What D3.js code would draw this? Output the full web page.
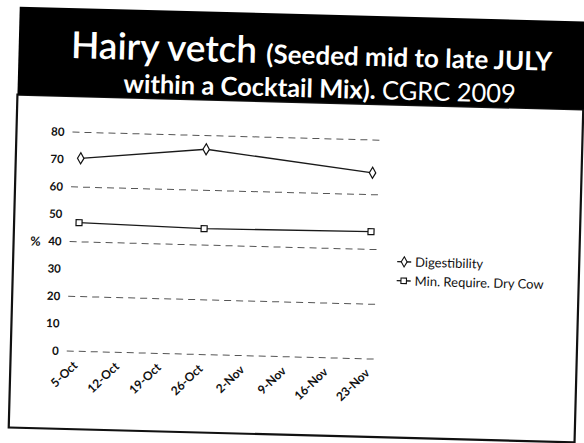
<!DOCTYPE html>
<html>
<head>
<meta charset="utf-8">
<script src="https://cdn.jsdelivr.net/npm/d3@7"></script>
<style>
  body { margin: 0; background: #fff; }
  svg { display: block; font-family: Lato, "Open Sans", sans-serif; }
</style>
</head>
<body>
<svg id="slide" width="584" height="443"></svg>
<script>
// values
var dates = ["2009-10-05", "2009-10-26", "2009-11-23"];
var digestibility = [70.5, 75, 68];
var minRequire = [47, 46, 46.5];
var seriesNames = ["Digestibility", "Min. Require. Dry Cow"];
var yTicks = [0, 10, 20, 30, 40, 50, 60, 70, 80];
var gridTicks = [0, 20, 40, 60, 80];
var tickLabels = ["5-Oct", "12-Oct", "19-Oct", "26-Oct", "2-Nov", "9-Nov", "16-Nov", "23-Nov"];

var parse = d3.timeParse("%Y-%m-%d");

var svg = d3.select("#slide");
// the scan is a little crooked, tilt the whole page the same way
var page = svg.append("g").attr("transform", "rotate(1.5,296,268)");

page.append("rect")
    .attr("x", 13).attr("y", 102)
    .attr("width", 566).attr("height", 333)
    .attr("fill", "#fff")
    .attr("stroke", "#111")
    .attr("stroke-width", 2.2);

page.append("rect")
    .attr("x", 13).attr("y", 14)
    .attr("width", 600).attr("height", 88)
    .attr("fill", "#000");

var t1 = page.append("text")
    .attr("x", 306).attr("y", 64)
    .attr("text-anchor", "middle")
    .attr("fill", "#fff");
t1.append("tspan").attr("font-size", 37).attr("font-weight", 600).text("Hairy vetch ");
t1.append("tspan").attr("font-size", 26).attr("font-weight", 700).text("(Seeded mid to late JULY");

var t2 = page.append("text")
    .attr("x", 315).attr("y", 97)
    .attr("text-anchor", "middle")
    .attr("fill", "#fff")
    .attr("font-size", 25.5);
t2.append("tspan").attr("font-weight", 700).text("within a Cocktail Mix).  ");
t2.append("tspan").attr("font-weight", 400).text("CGRC 2009");

// chart
var x = d3.scaleTime()
    .domain([new Date(2009, 9, 3, 12), new Date(2009, 10, 24)])
    .range([69, 376]);

var y = d3.scaleLinear()
    .domain([0, 80])
    .range([357, 138]);

var g = page.append("g");

g.selectAll(".grid")
    .data(gridTicks)
    .enter().append("line")
      .attr("class", "grid")
      .attr("x1", x.range()[0])
      .attr("x2", x.range()[1])
      .attr("y1", function(d) { return y(d); })
      .attr("y2", function(d) { return y(d); })
      .attr("stroke", "#555")
      .attr("stroke-width", 1)
      .attr("stroke-dasharray", "7,5");

g.selectAll(".ylab")
    .data(yTicks)
    .enter().append("text")
      .attr("class", "ylab")
      .attr("x", 61)
      .attr("y", function(d) { return y(d); })
      .attr("dy", "0.35em")
      .attr("text-anchor", "end")
      .attr("font-size", 11.5)
      .attr("font-weight", 700)
      .attr("fill", "#111")
      .text(function(d) { return d; });

g.append("text")
    .attr("x", 40)
    .attr("y", y(40) + 5)
    .attr("text-anchor", "end")
    .attr("font-size", 12.5)
    .attr("font-weight", 700)
    .attr("fill", "#111")
    .text("%");

var xTickDates = tickLabels.map(function(d, i) { return d3.timeDay.offset(parse(dates[0]), i * 7); });

g.selectAll(".xlab")
    .data(xTickDates)
    .enter().append("text")
      .attr("class", "xlab")
      .attr("transform", function(d) { return "translate(" + (x(d) + 3) + "," + (y(0) + 15) + ") rotate(-45)"; })
      .attr("text-anchor", "end")
      .attr("font-size", 12)
      .attr("font-weight", 700)
      .attr("fill", "#111")
      .text(function(d, i) { return tickLabels[i]; });

var series = [digestibility, minRequire].map(function(vals, k) {
  return {
    name: seriesNames[k],
    points: vals.map(function(v, i) { return { date: parse(dates[i]), value: v }; })
  };
});

var line = d3.line()
    .x(function(d) { return x(d.date); })
    .y(function(d) { return y(d.value); });

var symbols = [d3.symbolDiamond, d3.symbolSquare];

series.forEach(function(s, k) {
  g.append("path")
      .datum(s.points)
      .attr("d", line)
      .attr("fill", "none")
      .attr("stroke", "#1a1a1a")
      .attr("stroke-width", 1.4);

  g.selectAll(".m" + k)
      .data(s.points)
      .enter().append("path")
        .attr("class", "m" + k)
        .attr("transform", function(d) { return "translate(" + x(d.date) + "," + y(d.value) + ")"; })
        .attr("d", d3.symbol().type(symbols[k]).size(36))
        .attr("fill", "#fff")
        .attr("stroke", "#111")
        .attr("stroke-width", 1.2);
});

// legend
var legend = g.selectAll(".legend")
    .data(seriesNames)
    .enter().append("g")
      .attr("class", "legend")
      .attr("transform", function(d, i) { return "translate(397," + (259 + i * 19) + ")"; });

legend.append("line")
    .attr("x1", 0).attr("x2", 14)
    .attr("stroke", "#1a1a1a")
    .attr("stroke-width", 1.4);

legend.append("path")
    .attr("transform", "translate(7,0)")
    .attr("d", function(d, i) { return d3.symbol().type(symbols[i]).size(30)(); })
    .attr("fill", "#fff")
    .attr("stroke", "#111")
    .attr("stroke-width", 1.1);

legend.append("text")
    .attr("x", 18)
    .attr("dy", "0.35em")
    .attr("font-size", 13)
    .attr("fill", "#111")
    .text(function(d) { return d; });
</script>
</body>
</html>
